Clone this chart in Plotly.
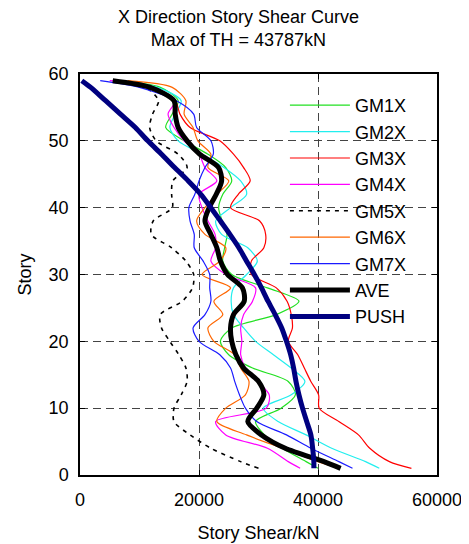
import plotly.graph_objects as go

# Story levels
stories = [1, 2, 4, 6, 8, 10, 12, 14, 16, 18, 20, 22, 24, 26, 28, 30,
           32, 34, 36, 38, 40, 42, 44, 46, 48, 50, 52, 54, 56, 58, 59]

# Story shear (kN)
gm1x = [40000, 38000, 34000, 31000, 29500, 33800, 36200, 35000, 29000, 25000, 23600,
        25500, 33000, 36800, 31500, 25500, 24000, 24300, 24700, 23900, 23300, 24000,
        25500, 24500, 21500, 17500, 14400, 15500, 16500, 13500, 6000]
gm2x = [50300, 48000, 42300, 38000, 33300, 30800, 35500, 37800, 35500, 32500, 29500,
        27500, 25800, 25400, 25800, 28000, 29800, 28200, 23800, 22800, 25300, 28000,
        27000, 24200, 20500, 16500, 15100, 16000, 17000, 13000, 6000]
gm3x = [55700, 52000, 48700, 46800, 43500, 40200, 40100, 38800, 37700, 36600, 35000,
        35700, 35500, 34800, 33000, 28800, 28800, 30900, 31200, 30200, 25300, 26600,
        28600, 27500, 25800, 23500, 18500, 16800, 16000, 12000, 6000]
gm4x = [37000, 35000, 31500, 24500, 22800, 31300, 31800, 29800, 27800, 27000, 27200,
        27000, 27500, 29000, 29500, 24500, 22000, 22800, 22700, 21500, 20500, 20000,
        23000, 21000, 20000, 17500, 15800, 14800, 16000, 12500, 5000]
gm5x = [30000, 27000, 22000, 18500, 15800, 15800, 17000, 18000, 17800, 16600, 15100,
        13700, 13500, 17200, 18900, 19100, 17800, 15400, 12000, 12300, 15500, 15400,
        15600, 18000, 16500, 12800, 11700, 12200, 13200, 11000, 5500]
gm6x = [43500, 40000, 34000, 28000, 23000, 24500, 27800, 28400, 27000, 26000, 22500,
        21500, 24000, 22500, 25300, 20500, 23500, 24500, 21000, 19600, 21000, 23000,
        25000, 21500, 22000, 19800, 19000, 17500, 17800, 15500, 8000]
gm7x = [45800, 43500, 38800, 34700, 29700, 27800, 26800, 26000, 25300, 23500, 20000,
        19000, 21000, 22000, 21800, 21800, 20700, 19200, 19200, 18500, 18300, 19300,
        20000, 21000, 22400, 22000, 19600, 19100, 16200, 10000, 3400]
ave = [43800, 41000, 34500, 30500, 28200, 29700, 30900, 30000, 27500, 26200, 25500,
       25300, 25800, 27600, 27300, 24800, 23600, 23000, 22000, 21000, 21700, 22900,
       23800, 23300, 20100, 18000, 16500, 16000, 15800, 11800, 5500]
push = [39300, 39300, 39100, 38800, 38100, 37400, 36800, 36300, 35900, 35400, 34700,
        33900, 32800, 31600, 30500, 29300, 28000, 26700, 25200, 23600, 22000, 20300,
        18200, 15900, 13700, 11400, 9300, 6800, 4300, 1800, 300]

x_ticks = [0, 20000, 40000, 60000]
y_ticks = [0, 10, 20, 30, 40, 50, 60]

series = [
    ("GM1X", gm1x, "#22e022", 1.2, "solid"),
    ("GM2X", gm2x, "#22eeee", 1.2, "solid"),
    ("GM3X", gm3x, "#ff0000", 1.2, "solid"),
    ("GM4X", gm4x, "#ff00ff", 1.2, "solid"),
    ("GM5X", gm5x, "#000000", 1.6, "4px,5px"),
    ("GM6X", gm6x, "#ff6600", 1.2, "solid"),
    ("GM7X", gm7x, "#1a1aff", 1.2, "solid"),
    ("AVE", ave, "#000000", 5, "solid"),
    ("PUSH", push, "#000080", 5, "solid"),
]

FONT = "Liberation Sans, Arial, sans-serif"

fig = go.Figure()
for name, vals, color, width, dash in series:
    fig.add_trace(go.Scatter(
        x=vals, y=stories, name=name, mode="lines",
        line=dict(color=color, width=width, dash=dash, shape="spline", smoothing=0.8),
    ))

# white area behind the legend (covers gridlines only)
fig.add_shape(type="rect", xref="paper", yref="paper",
              x0=0.521, x1=0.995, y0=0.349, y1=0.9576,
              fillcolor="white", line=dict(width=0), layer="between")

axis_common = dict(
    showline=True, linecolor="black", linewidth=1.5, mirror="ticks",
    ticks="inside", ticklen=5, tickcolor="black", automargin=False,
    showgrid=True, gridcolor="#444444", gridwidth=1, griddash="8px,5px",
    zeroline=False, tickfont=dict(size=18, color="black", family=FONT),
)

fig.update_xaxes(range=[0, 60000], tickvals=x_ticks, ticktext=[str(v) for v in x_ticks],
                 title=dict(text="Story Shear/kN", font=dict(size=18, color="black", family=FONT), standoff=17),
                 ticklabelstandoff=8, **axis_common)
fig.update_yaxes(range=[0, 60], tickvals=y_ticks,
                 title=dict(text="Story", font=dict(size=18, color="black", family=FONT), standoff=12),
                 ticklabelstandoff=6, **axis_common)

# the page adds an 8px body margin, so the figure is 8px smaller and offsets are compensated
fig.update_layout(
    width=461, height=536,
    margin=dict(l=72, r=32, t=66, b=69, autoexpand=False),
    paper_bgcolor="white", plot_bgcolor="white",
    font=dict(family=FONT, size=18, color="black"),
    title=dict(text="X Direction Story Shear Curve<br>Max of TH = 43787kN",
               x=0.5, xanchor="center", y=0.972, yanchor="top", yref="container",
               automargin=False,
               font=dict(size=18, family=FONT, color="black")),
    showlegend=True,
    legend=dict(x=0.574, xanchor="left", y=0.9676, yanchor="top",
                bgcolor="rgba(0,0,0,0)", borderwidth=0,
                font=dict(size=18, family=FONT, color="black"),
                itemwidth=60, tracegroupgap=0),
)

fig.write_html("out.html")
